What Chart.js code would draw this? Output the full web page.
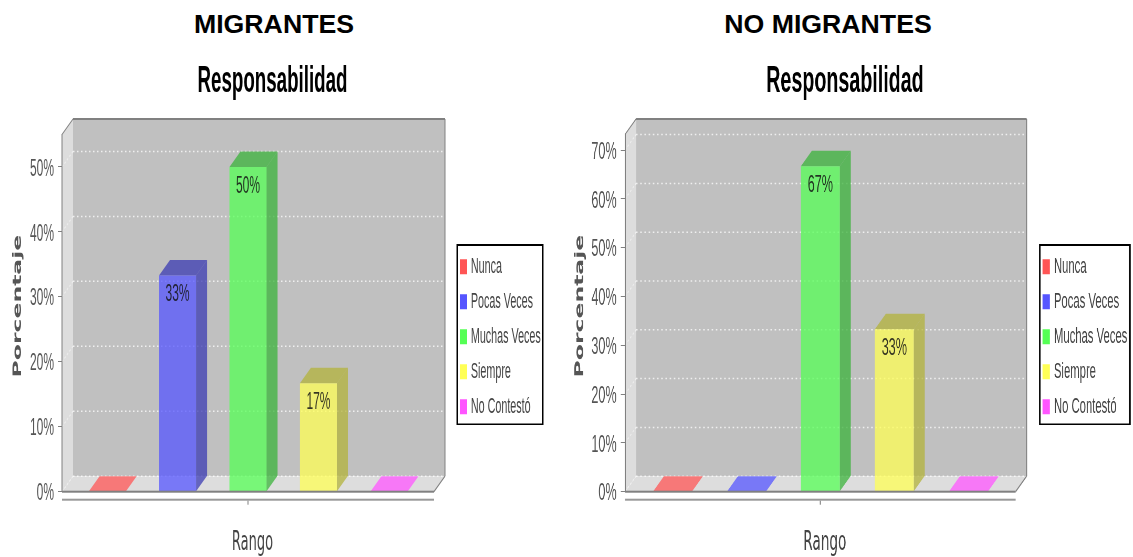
<!DOCTYPE html>
<html>
<head>
<meta charset="utf-8">
<title>Responsabilidad</title>
<script src="https://cdn.jsdelivr.net/npm/chart.js@4"></script>
<style>
	html, body { margin: 0; background: #fff; overflow: hidden; width: 1133px; height: 557px; }
	h2 { position: absolute; top: 9px; margin: 0; width: 400px; text-align: center; font: bold 26.7px "Liberation Sans"; color: #000; }
	canvas { position: absolute; top: 0; transform-origin: 0 0; }
</style>
</head>
<body>
<h2 style="left:74px">MIGRANTES</h2>
<h2 style="left:628px">NO MIGRANTES</h2>
<canvas id="chartMigrantes"></canvas>
<canvas id="chartNoMigrantes"></canvas>
<script>
var rangos = [""];
var categorias = ["Nunca", "Pocas Veces", "Muchas Veces", "Siempre", "No Contestó"];
var migrantes = [0, 33.3, 50, 16.7, 0];
var noMigrantes = [0, 0, 66.7, 33.3, 0];
var colores = ["255,85,85", "85,85,255", "85,255,85", "255,255,85", "255,85,255"];

// the original picture is squeezed sideways, so each canvas is drawn wide and scaled down
var layoutMigrantes = { origin: 0, squeeze: 0.5, width: 545, left: 62, right: 434, legend: [456.5, 543.5], yMax: 55, yTitleX: 18, shift: 4.5 };
var layoutNoMigrantes = { origin: 557, squeeze: 0.525, width: 576, left: 625, right: 1015.7, legend: [1039, 1130.7], yMax: 73.2, yTitleX: 580, shift: 4.5 };

var plotTop = 134.5;
var plotBottom = 491.7;
var depthY = 15.5;
var legendTop = 244;
var legendBottom = 425;
var gris = "#808080";

function poly(ctx, pts, fill) {
	ctx.beginPath();
	ctx.moveTo(pts[0][0], pts[0][1]);
	for (var i = 1; i < pts.length; i++) {
		ctx.lineTo(pts[i][0], pts[i][1]);
	}
	ctx.closePath();
	ctx.fillStyle = fill;
	ctx.fill();
}

function hline(ctx, x1, x2, y, color, w) {
	ctx.fillStyle = color;
	ctx.fillRect(x1, y - w / 2, x2 - x1, w);
}

var depth3d = {
	id: "depth3d",
	afterLayout: function(chart) {
		var l = chart.config.options.plugins.depth3d;
		var legend = chart.legend;
		var pad = chart.options.plugins.legend.labels.padding;
		legend.left = (l.legend[0] + 3.5 - l.origin) / l.squeeze - pad + 3;
		legend.right = (l.legend[1] - l.origin) / l.squeeze;
		legend.top = legendTop - 1.5;
		legend.bottom = legendBottom + 15;

		// the big title is centred on the whole canvas, not on the plot
		chart.titleBlock.left = 0;
		chart.titleBlock.right = chart.width;

		// the axis titles sit off centre in the reference
		var xs = chart.scales.x, ys = chart.scales.y, ctx = chart.ctx;
		var drawX = xs.drawTitle, drawY = ys.drawTitle;
		xs.drawTitle = function() {
			ctx.save();
			ctx.translate(l.shift / l.squeeze, 3);
			drawX.call(xs);
			ctx.restore();
		};
		ys.drawTitle = function() {
			ctx.save();
			ctx.translate(0, -7);
			drawY.call(ys);
			ctx.restore();
		};
	},
	beforeDraw: function(chart) {
		var l = chart.config.options.plugins.depth3d;
		var ctx = chart.ctx, a = chart.chartArea, ys = chart.scales.y;
		var dx = 11 / l.squeeze, dy = depthY;
		var backB = a.bottom - dy, backT = a.top - dy;

		poly(ctx, [[a.left + dx, backT], [a.right + dx, backT], [a.right + dx, backB], [a.left + dx, backB]], "#c0c0c0");
		poly(ctx, [[a.left, a.top], [a.left + dx, backT], [a.left + dx, backB], [a.left, a.bottom]], "#dddddd");
		poly(ctx, [[a.left, a.bottom], [a.left + dx, backB], [a.right + dx, backB], [a.right, a.bottom]], "#dddddd");

		// dotted grid on the back wall, faint on the side wall
		ctx.save();
		ys.ticks.forEach(function(t) {
			var y = ys.getPixelForValue(t.value);
			ctx.strokeStyle = "rgba(255,255,255,0.75)";
			ctx.lineWidth = 1.5;
			ctx.setLineDash([3, 5]);
			ctx.beginPath();
			ctx.moveTo(a.left + dx, y - dy);
			ctx.lineTo(a.right + dx, y - dy);
			ctx.stroke();
			ctx.strokeStyle = "rgba(255,255,255,0.5)";
			ctx.setLineDash([3, 3]);
			ctx.beginPath();
			ctx.moveTo(a.left, y);
			ctx.lineTo(a.left + dx, y - dy);
			ctx.stroke();
		});
		ctx.restore();

		// wall edges
		hline(ctx, a.left + dx, a.right + dx, backT, gris, 2);
		ctx.fillStyle = gris;
		ctx.fillRect(a.right + dx - 1, backT, 2, backB - backT);
		ctx.strokeStyle = gris;
		ctx.lineWidth = 1.5;
		ctx.beginPath();
		ctx.moveTo(a.left, a.top);
		ctx.lineTo(a.left + dx, backT);
		ctx.moveTo(a.right + dx, backB);
		ctx.lineTo(a.right, a.bottom);
		ctx.stroke();

		// legend frame
		var x1 = (l.legend[0] - l.origin) / l.squeeze, x2 = (l.legend[1] - l.origin) / l.squeeze;
		ctx.fillStyle = "#000";
		ctx.fillRect(x1, legendTop, x2 - x1, legendBottom - legendTop);
		ctx.fillStyle = "#fff";
		ctx.fillRect(x1 + 3, legendTop + 2, x2 - x1 - 6, legendBottom - legendTop - 3.5);
	},
	beforeDatasetsDraw: function(chart) {
		var l = chart.config.options.plugins.depth3d;
		var ctx = chart.ctx;
		var dx = 11 / l.squeeze, dy = depthY;
		chart.data.datasets.forEach(function(ds, i) {
			var bar = chart.getDatasetMeta(i).data[0];
			var x1 = bar.x - bar.width / 2, x2 = bar.x + bar.width / 2;
			var c = colores[i].split(",").map(function(v) { return Math.round(v * 0.7); }).join(",");
			var oscuro = "rgba(" + c + ",0.75)";
			if (ds.data[0] > 0) {
				poly(ctx, [[x2, bar.y], [x2 + dx, bar.y - dy], [x2 + dx, bar.base - dy], [x2, bar.base]], oscuro);
			}
			// an empty bar only shows its colour lying on the floor
			poly(ctx, [[x1, bar.y], [x1 + dx, bar.y - dy], [x2 + dx, bar.y - dy], [x2, bar.y]], ds.data[0] > 0 ? oscuro : ds.backgroundColor);
		});
	},
	afterDatasetsDraw: function(chart) {
		var ctx = chart.ctx, a = chart.chartArea, xs = chart.scales.x;
		// front edge of the floor, then the category axis a little lower
		hline(ctx, a.left, a.right, a.bottom, gris, 2);
		hline(ctx, a.left, a.right, a.bottom + 8, "#999", 2);
		ctx.fillStyle = gris;
		ctx.fillRect(xs.getPixelForTick(0) - 1, a.bottom + 9, 2, 4);

		ctx.save();
		ctx.font = "24px 'Liberation Sans'";
		ctx.textAlign = "center";
		ctx.textBaseline = "middle";
		ctx.fillStyle = "rgba(20,20,20,0.85)";
		chart.data.datasets.forEach(function(ds, i) {
			if (ds.data[0] > 0) {
				var bar = chart.getDatasetMeta(i).data[0];
				ctx.fillText(Math.round(ds.data[0]) + "%", bar.x, bar.y + 19);
			}
		});
		ctx.restore();
	}
};

function makeChart(id, values, l) {
	var canvas = document.getElementById(id);
	canvas.width = l.width / l.squeeze;
	canvas.height = 557;
	canvas.style.left = l.origin + "px";
	canvas.style.transform = "scaleX(" + l.squeeze + ")";

	var datasets = [];
	for (var i = 0; i < categorias.length; i++) {
		datasets.push({
			label: categorias[i],
			data: [values[i]],
			backgroundColor: "rgba(" + colores[i] + ",0.75)",
			borderWidth: 0,
			categoryPercentage: 0.947,
			barPercentage: 0.526
		});
	}

	return new Chart(canvas, {
		type: "bar",
		data: { labels: rangos, datasets: datasets },
		plugins: [depth3d],
		options: {
			responsive: false,
			animation: false,
			layout: { padding: { right: l.width / l.squeeze - (l.right - l.origin) / l.squeeze } },
			plugins: {
				depth3d: l,
				tooltip: { enabled: false },
				title: {
					display: true,
					text: "Responsabilidad",
					color: "#000",
					font: { family: "'Liberation Sans'", weight: "bold", size: 37.5 },
					padding: { top: 59.5, bottom: 30 }
				},
				legend: {
					position: "chartArea",
					align: "start",
					labels: {
						// thin box with a thick stroke keeps the text close to the colour mark
						boxWidth: 8,
						boxHeight: 9,
						padding: 13.5,
						font: { family: "'Liberation Sans'", size: 21.5 },
						generateLabels: function() {
							return categorias.map(function(c, i) {
								var color = "rgb(" + colores[i] + ")";
								return { text: c, fontColor: "#444", fillStyle: color, strokeStyle: color, lineWidth: 6, datasetIndex: i };
							});
						}
					}
				}
			},
			scales: {
				x: {
					grid: { display: false },
					border: { display: false },
					ticks: { display: false },
					title: {
						display: true,
						text: "Rango",
						color: "#444",
						font: { family: "'DejaVu Sans'", size: 26 },
						padding: { top: 0, bottom: 1 }
					},
					afterFit: function(scale) { scale.height = 557 - plotBottom; }
				},
				y: {
					min: 0,
					max: l.yMax,
					grid: { drawOnChartArea: false, drawTicks: true, tickLength: 8, color: gris },
					border: { display: true, color: gris, width: 2 },
					ticks: {
						stepSize: 10,
						includeBounds: false,
						padding: 8,
						labelOffset: 2,
						color: "#555",
						font: { family: "'Liberation Sans'", size: 24 },
						callback: function(v) { return v + "%"; }
					},
					title: {
						display: true,
						text: "Porcentaje",
						color: "#555",
						font: { family: "'DejaVu Sans'", weight: "bold", size: 23.5 },
						padding: { top: (l.yTitleX - l.origin) / l.squeeze - 14, bottom: 0 }
					},
					afterFit: function(scale) { scale.width = (l.left - l.origin) / l.squeeze; }
				}
			}
		}
	});
}

makeChart("chartMigrantes", migrantes, layoutMigrantes);
makeChart("chartNoMigrantes", noMigrantes, layoutNoMigrantes);
</script>
</body>
</html>
